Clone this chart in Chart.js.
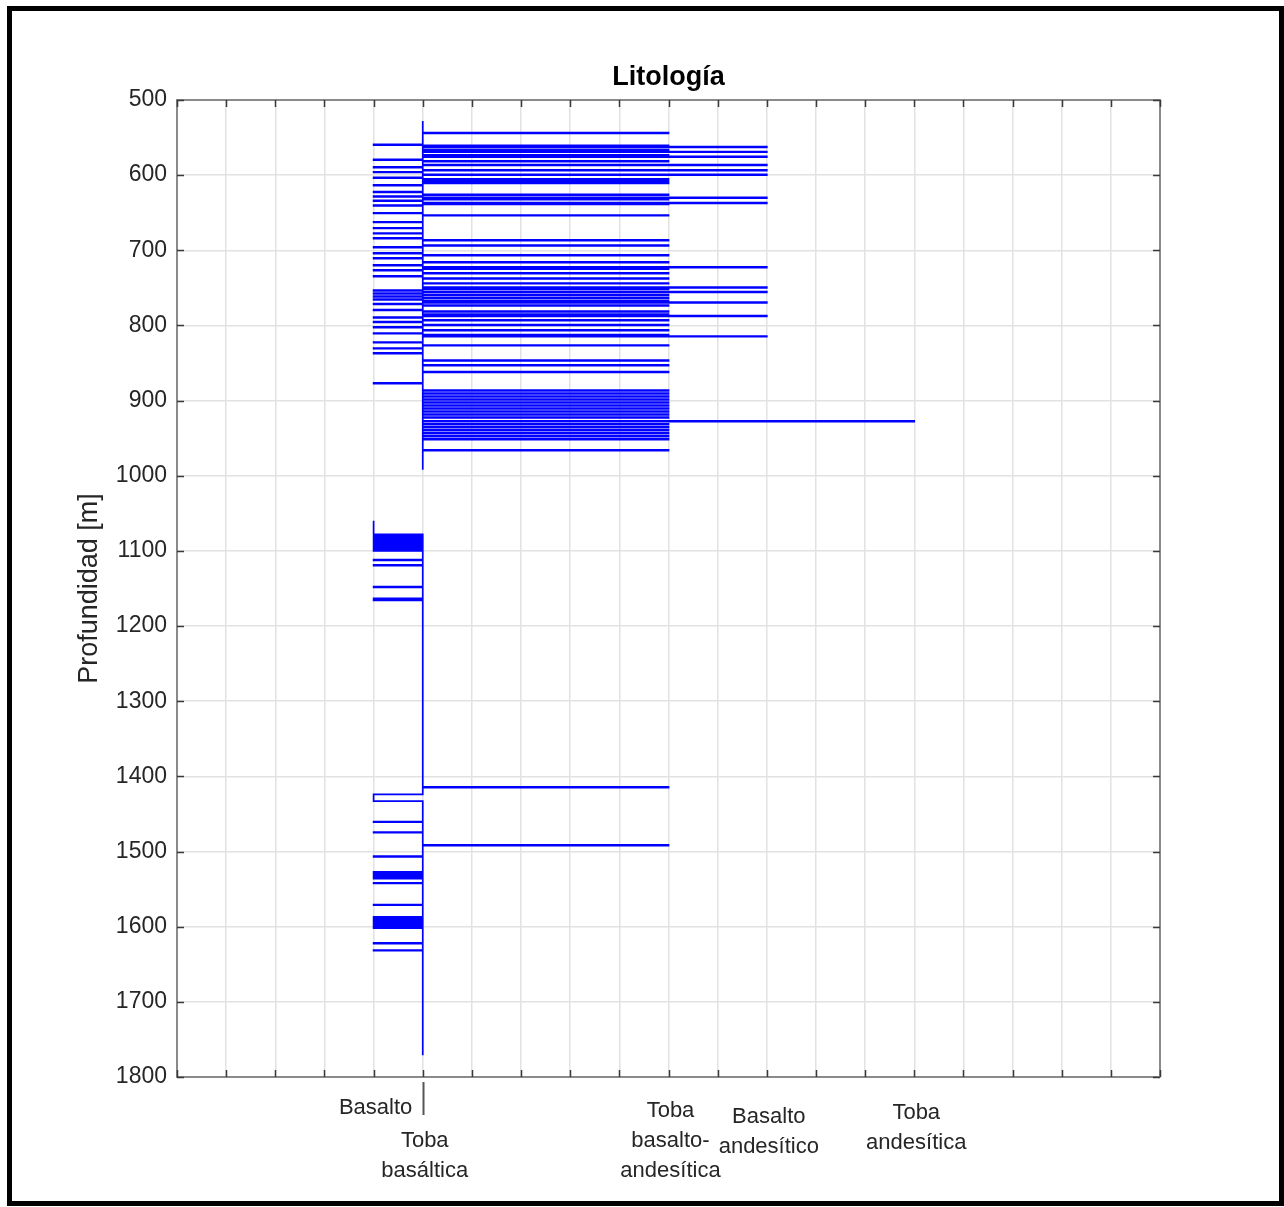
<!DOCTYPE html>
<html>
<head>
<meta charset="utf-8">
<script src="https://cdn.jsdelivr.net/npm/chart.js"></script>
<style>
  body { margin: 0; background: #fff; }
  #wrap { position: relative; width: 1284px; height: 1207px; }
  #frame {
    position: absolute; left: 7px; top: 6px; width: 1277px; height: 1200px;
    border: 5px solid #000; box-sizing: border-box; pointer-events: none;
  }
</style>
</head>
<body>
<div id="wrap">
  <canvas id="chart" width="1284" height="1207"></canvas>
  <div id="frame"></div>
</div>
<script>
/* ================= DATA ================= */
// lithology codes on the x axis and their labels
const lithoValues = [4, 5, 10, 12, 15];
const lithoLabels = [
  ["Basalto"],
  ["Toba", "basáltica"],
  ["Toba", "basalto-", "andesítica"],
  ["Basalto", "andesítico"],
  ["Toba", "andesítica"]
];
const BASE_CODE = 5; // Toba basáltica is the background of the log

// depth axis
const depthMin = 500, depthMax = 1800, depthStep = 100;

// upper section [m] — intervals [top, base] per lithology
const upperTop = 528, upperBottom = 992;
const upperBasalto = [
  [559, 560], [579, 580], [589, 590], [595.5, 596.5], [603, 604], [613, 614],
  [622, 623], [628, 629], [633.5, 634.5], [640, 641], [650, 651], [662, 663],
  [670, 671], [677, 678], [683.5, 684.5], [695.5, 696.5], [703.5, 704.5],
  [710, 711], [719.5, 720.5], [726, 727], [734, 735], [753, 754], [757, 758],
  [761, 762], [765, 766], [771, 772], [779, 780], [789, 790], [795, 796],
  [802, 803], [810, 811], [822, 823], [830, 831], [836.5, 837.5], [876.5, 877.5]
];
const upperTobaBA = [
  [543.5, 544.5], [560.5, 561.5], [566, 567], [573, 574], [581, 582],
  [605, 606], [607.5, 608.5], [610, 611], [625.5, 626.5], [631.5, 632.5],
  [638, 639], [653, 654], [686, 687], [693, 694], [706, 707], [715.5, 716.5],
  [724, 725], [730, 731], [737, 738], [743.5, 744.5], [751, 752], [759, 760],
  [763, 764], [767, 768], [773, 774], [781, 782], [785, 786], [792.5, 793.5],
  [799, 800], [806, 807], [812, 813], [826, 827], [846, 847], [852.5, 853.5],
  [861.5, 862.5], [886, 887], [890, 891], [894, 895], [898, 899], [902, 903],
  [906, 907], [910, 911], [914, 915], [918, 919], [922, 923], [931, 932],
  [935, 936], [939, 940], [943, 944], [947, 948], [951, 952], [965.5, 966.5]
];
const upperBasaltoAnd = [
  [562, 563], [568.5, 569.5], [575, 576], [586, 587], [593, 594], [599, 600],
  [629.5, 630.5], [636.5, 637.5], [722, 723], [749, 750], [755, 756],
  [769, 770], [787, 788], [814, 815]
];
const upperTobaAnd = [[927, 928]];

// lower section [m]
const lowerTop = 1060, lowerBottom = 1771;
const lowerBasalto = [
  [1060, 1078], [1079, 1080], [1081, 1082], [1083, 1084], [1085, 1086],
  [1087, 1088], [1089, 1090], [1091, 1092], [1093, 1094], [1095, 1096],
  [1097, 1098], [1099, 1100], [1111.5, 1112.5], [1118.5, 1119.5],
  [1147.5, 1148.5], [1163, 1164], [1165, 1166], [1424, 1433], [1460, 1461],
  [1474, 1475], [1506, 1507], [1527, 1528], [1529, 1530], [1531, 1532],
  [1533, 1534], [1535, 1536], [1541.5, 1542.5], [1570.5, 1571.5],
  [1587, 1588], [1589, 1590], [1591, 1592], [1593, 1594], [1595, 1596],
  [1597, 1598], [1599, 1600], [1601, 1602], [1621.5, 1622.5], [1631, 1632]
];
const lowerTobaBA = [[1414, 1415], [1491, 1492]];

/* ================= BUILD LOG ================= */
function buildLog(top, bottom, groups) {
  const intervals = [];
  groups.forEach(([code, list]) => list.forEach(([t, b]) => intervals.push([t, b, code])));
  intervals.sort((a, b) => a[0] - b[0]);

  const pts = [];
  let d = top;
  intervals.forEach(([t, b, code]) => {
    if (t > d) {
      pts.push({ x: BASE_CODE, y: d });
      pts.push({ x: BASE_CODE, y: t });
    }
    pts.push({ x: code, y: t });
    pts.push({ x: code, y: b });
    d = b;
  });
  pts.push({ x: BASE_CODE, y: d });
  pts.push({ x: BASE_CODE, y: bottom });
  return pts;
}

const upperLog = buildLog(upperTop, upperBottom, [
  [lithoValues[0], upperBasalto],
  [lithoValues[2], upperTobaBA],
  [lithoValues[3], upperBasaltoAnd],
  [lithoValues[4], upperTobaAnd]
]);
const lowerLog = buildLog(lowerTop, lowerBottom, [
  [lithoValues[0], lowerBasalto],
  [lithoValues[2], lowerTobaBA]
]);

/* ================= STYLE ================= */
const FONT = "'Liberation Sans', Arial, Helvetica, sans-serif";
const TEXT = "#262626";
const GRID = "#e2e2e2";
const AXIS = "#8a8a8a";
const labelTopY = [1108, 1141, 1111, 1117, 1113];
const labelLine = 30;

const decorPlugin = {
  id: "decor",
  afterDraw(chart) {
    const { ctx, chartArea: a, scales: { x, y } } = chart;
    ctx.save();

    // box: top and right edges
    ctx.strokeStyle = AXIS;
    ctx.lineWidth = 2;
    ctx.beginPath();
    ctx.moveTo(a.left, a.top);
    ctx.lineTo(a.right, a.top);
    ctx.lineTo(a.right, a.bottom);
    ctx.stroke();

    // inward tick marks
    ctx.strokeStyle = "#3a3a3a";
    ctx.lineWidth = 1.5;
    ctx.beginPath();
    x.ticks.forEach(t => {
      const px = Math.round(x.getPixelForValue(t.value)) + 0.5;
      ctx.moveTo(px, a.top); ctx.lineTo(px, a.top + 7);
      ctx.moveTo(px, a.bottom); ctx.lineTo(px, a.bottom - 7);
    });
    y.ticks.forEach(t => {
      const py = Math.round(y.getPixelForValue(t.value)) + 0.5;
      ctx.moveTo(a.left, py); ctx.lineTo(a.left + 7, py);
      ctx.moveTo(a.right, py); ctx.lineTo(a.right - 7, py);
    });
    ctx.stroke();

    // title
    ctx.fillStyle = "#000";
    ctx.font = `bold 27px ${FONT}`;
    ctx.textAlign = "center";
    ctx.textBaseline = "middle";
    ctx.fillText("Litología", (a.left + a.right) / 2, 78);

    // y title
    ctx.save();
    ctx.translate(90, (a.top + a.bottom) / 2);
    ctx.rotate(-Math.PI / 2);
    ctx.fillStyle = TEXT;
    ctx.font = `27px ${FONT}`;
    ctx.fillText("Profundidad [m]", 0, 0);
    ctx.restore();

    // x tick labels
    ctx.fillStyle = TEXT;
    ctx.font = `22px ${FONT}`;
    lithoValues.forEach((v, i) => {
      const px = x.getPixelForValue(v);
      lithoLabels[i].forEach((line, j) => {
        ctx.fillText(line, px + 2, labelTopY[i] + j * labelLine);
      });
    });

    // the odd bar under Toba basáltica
    const p5 = Math.round(x.getPixelForValue(lithoValues[1])) + 0.5;
    ctx.strokeStyle = "#555";
    ctx.lineWidth = 2;
    ctx.beginPath();
    ctx.moveTo(p5, a.bottom + 5);
    ctx.lineTo(p5, a.bottom + 38);
    ctx.stroke();

    ctx.restore();
  }
};

/* ================= CHART ================= */
const lineStyle = {
  showLine: true,
  borderColor: "#0000ff",
  borderWidth: 1.7,
  pointRadius: 0,
  tension: 0
};

new Chart(document.getElementById("chart"), {
  type: "scatter",
  data: {
    datasets: [
      { data: upperLog, ...lineStyle },
      { data: lowerLog, ...lineStyle }
    ]
  },
  options: {
    responsive: false,
    animation: false,
    layout: { padding: { top: 100, right: 124, bottom: 0, left: 0 } },
    plugins: {
      legend: { display: false },
      title: { display: false },
      tooltip: { enabled: false }
    },
    scales: {
      x: {
        type: "linear",
        min: 0,
        max: 20,
        ticks: { stepSize: 1, display: false },
        grid: { color: GRID, lineWidth: 1.5, drawTicks: false },
        border: { color: AXIS, width: 2 },
        afterFit: s => { s.height = 130; }
      },
      y: {
        type: "linear",
        reverse: true,
        min: depthMin,
        max: depthMax,
        ticks: {
          stepSize: depthStep,
          padding: 10,
          color: TEXT,
          font: { family: FONT, size: 23 },
          callback: v => String(v)
        },
        grid: { color: GRID, lineWidth: 1.5, drawTicks: false },
        border: { color: AXIS, width: 2 },
        afterFit: s => { s.width = 177; }
      }
    }
  },
  plugins: [decorPlugin]
});
</script>
</body>
</html>
